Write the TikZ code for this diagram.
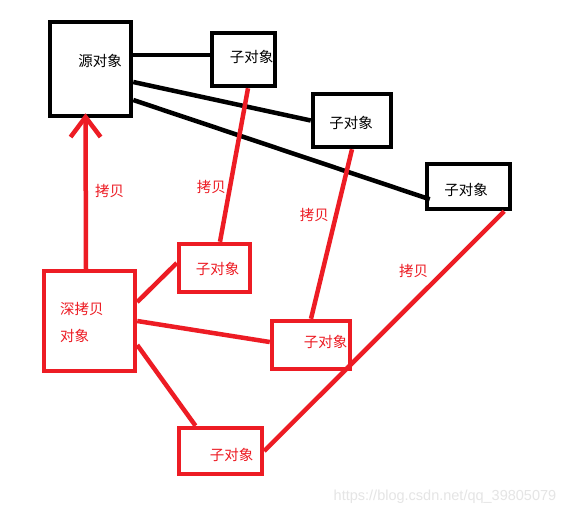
\documentclass[tikz,border=0pt]{standalone}
\usepackage{fontspec}
\setmainfont{Liberation Sans}
\newfontfamily\cjk{Noto Sans CJK SC}
\usetikzlibrary{arrows.meta,positioning}
\definecolor{paintred}{RGB}{237,28,36}

\begin{document}
\begin{tikzpicture}[x=1pt, y=-1pt]
     \begin{scope}[block/.style={rectangle, draw, line width=4.5pt, inner sep=0pt}, copyblock/.style={block, draw=paintred}, tag/.style={font=\cjk\fontsize{14.5}{27}\selectfont, inner sep=0pt}, note/.style={tag, text=paintred}, link/.style={line width=4.5pt}, copylink/.style={link, draw=paintred}]
	 \useasboundingbox[fill=white] (0,0) rectangle (576,515);

	 \node[block, minimum width=81pt, minimum height=94pt] (src) at (90.5,69) {};
	 \node[block, minimum width=63pt, minimum height=53pt] (child1) at (243.5,59.5) {};
	 \node[block, minimum width=78pt, minimum height=53pt] (child2) at (352,120.5) {};
	 \node[block, minimum width=83pt, minimum height=45pt] (child3) at (468.5,186.5) {};
	 \node[copyblock, minimum width=91pt, minimum height=100pt] (deep) at (89.5,321) {};
	 \node[copyblock, minimum width=71pt, minimum height=48pt] (copy1) at (214.5,268) {};
	 \node[copyblock, minimum width=78pt, minimum height=48pt] (copy2) at (311,345) {};
	 \node[copyblock, minimum width=83pt, minimum height=46pt] (copy3) at (220.5,451) {};

	 \node[tag] (srctext) at (100,61) {源对象};
	 \node[tag] (child1text) at (251.5,57) {子对象};
	 \node[tag] (child2text) at (351,123) {子对象};
	 \node[tag] (child3text) at (466,190) {子对象};
	 \node[note, align=left, anchor=west] (deeptext) at (60,322.5) {深拷贝\\对象};
	 \node[note] (copy1text) at (217.5,269) {子对象};
	 \node[note] (copy2text) at (325.5,342) {子对象};
	 \node[note] (copy3text) at (231.5,455) {子对象};

	 \draw[link] ([yshift=14pt]src.east) -- ([yshift=4.5pt]child1.west);
	 \draw[link] ([yshift=-13pt]src.east) -- (child2.west);
	 \draw[link] ([yshift=-31pt]src.east) -- ([xshift=5pt,yshift=12pt]child3.south west);

	 \draw[copylink, -{Straight Barb[length=20pt,width=30pt]}] ([xshift=-3.5pt]deep.north) -- node[note, right=7pt, pos=0.5] {拷贝} ([xshift=-5pt,yshift=5pt]src.south);
	 \draw[copylink] ([xshift=5.5pt]copy1.north) -- node[note, left=2pt, pos=0.36] {拷贝} ([xshift=4.5pt]child1.south);
	 \draw[copylink] (copy2.north) -- node[note, left=5pt, pos=0.61] {拷贝} (child2.south);
	 \draw[copylink] (copy3.east) -- node[note, left=14pt, pos=0.75] {拷贝} ([xshift=-8pt]child3.south east);

	 \draw[copylink] ([yshift=19pt]deep.east) -- ([yshift=5pt]copy1.west);
	 \draw[copylink] (deep.east) -- ([yshift=3pt]copy2.west);
	 \draw[copylink] ([yshift=-24pt]deep.east) -- ([xshift=-25pt]copy3.north);

	 \node[text=black!10, font=\fontsize{14.5}{17}\selectfont] (mark) at (445,497) {https://blog.csdn.net/qq\_39805079};
       \end{scope}
     \end{tikzpicture}
\end{document}
